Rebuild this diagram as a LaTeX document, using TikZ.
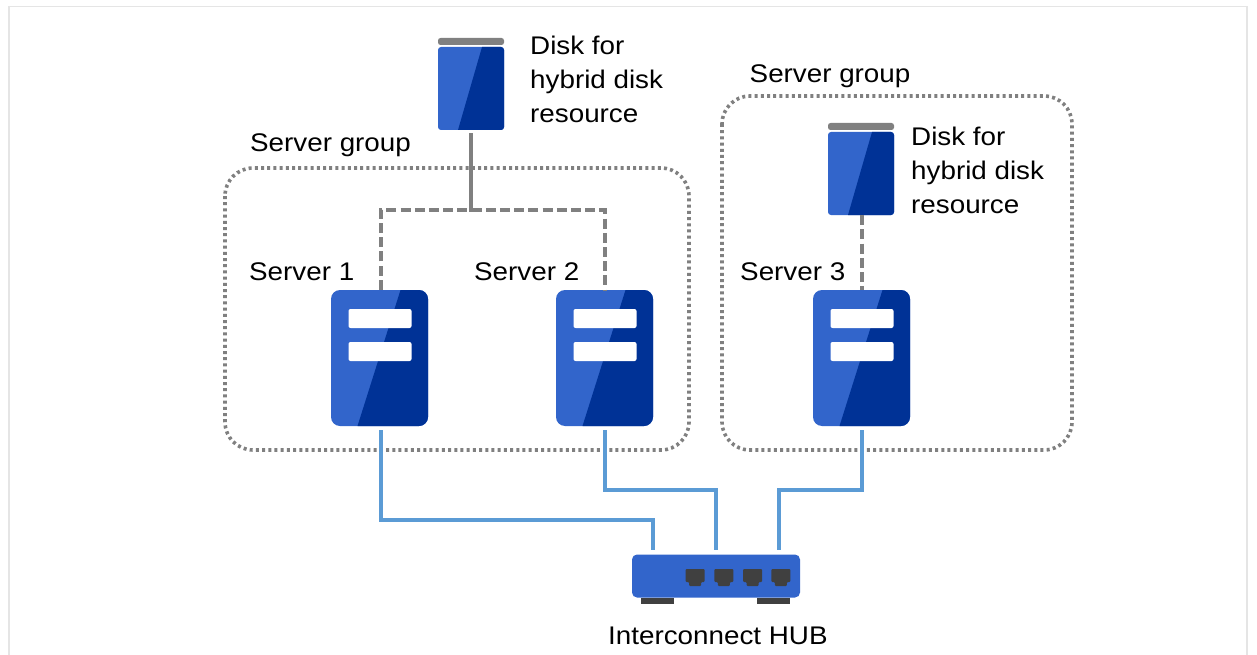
\documentclass[tikz,border=0pt]{standalone}
\usepackage{fontspec}
\setmainfont[FakeStretch=1.09]{Liberation Sans}
\definecolor{lightb}{HTML}{3265CB}
\definecolor{darkb}{HTML}{003296}
\definecolor{link}{HTML}{5B9BD5}
\definecolor{gline}{HTML}{808080}
\definecolor{port}{HTML}{404040}
\tikzset{
  x=1pt,y=-1pt,
  lab/.style={inner sep=0pt,anchor=west,align=left,font=\fontsize{25.5}{34}\selectfont},
  grp/.style={draw=gline,line width=3.6pt,dash pattern=on 3pt off 3.2pt,rounded corners=28pt},
  blue link/.style={draw=link,line width=3.4pt},
  san link/.style={draw=gline,line width=3.8pt,dash pattern=on 10pt off 4.2pt},
  san solid/.style={draw=gline,line width=3.8pt},
  frameln/.style={draw=black!10,line width=1.5pt},
}
\newcommand{\serverbox}[2]{% name, center x
  \node[fill=lightb,rounded corners=9pt,inner sep=0pt,minimum width=97pt,minimum height=136pt] (#1) at (#2,358) {};
  \begin{scope}
    \clip[rounded corners=9pt] (#2-48.5,290) rectangle (#2+48.5,426);
    \fill[darkb] (#2+21,290) -- (#2+50,290) -- (#2+50,426) -- (#2-22,426) -- cycle;
  \end{scope}
  \fill[white,rounded corners=2pt] (#2-31,309) rectangle (#2+32,328);
  \fill[white,rounded corners=2pt] (#2-31,342) rectangle (#2+32,361);
}
\newcommand{\diskbox}[3]{% name, center x, body top
  \node[fill=lightb,rounded corners=3pt,inner sep=0pt,minimum width=66pt,minimum height=83pt] (#1) at (#2,#3+41.5) {};
  \begin{scope}
    \clip[rounded corners=3pt] (#2-33,#3) rectangle (#2+33,#3+83);
    \fill[darkb] (#2+11,#3) -- (#2+34,#3) -- (#2+34,#3+83) -- (#2-13,#3+83) -- cycle;
  \end{scope}
  \fill[gline,rounded corners=2.5pt] (#2-33,#3-9) rectangle (#2+33,#3-2);
}
\begin{document}
\begin{tikzpicture}
\useasboundingbox (0,0) rectangle (1257,655);
\fill[white] (0,0) rectangle (1257,655);
\coordinate (fa) at (9,655); \coordinate (fb) at (9,6.5); \coordinate (fc) at (1247,6.5); \coordinate (fd) at (1247,655);
\draw[frameln] (fa) -- (fb) -- (fc) -- (fd);

% group outlines
\draw[grp] (225,168) rectangle (689,450);
\draw[grp] (722,96) rectangle (1072,450);

% devices
\serverbox{s1}{379.5}
\serverbox{s2}{604.5}
\serverbox{s3}{861.5}
\diskbox{d1}{471}{47}
\diskbox{d2}{861}{132}

% hub
\node[fill=lightb,rounded corners=5pt,inner sep=0pt,minimum width=168pt,minimum height=43pt] (hub) at (716,576) {};
\fill[port] (641,597.5) rectangle (674,604);
\fill[port] (757,597.5) rectangle (790,604);
\foreach \px in {685.7,714.3,743,771.3}{
  \fill[port,rounded corners=1pt] (\px,569) -- (\px+19,569) -- (\px+19,582) -- (\px+15.5,582) -- (\px+15.5,586) -- (\px+3.5,586) -- (\px+3.5,582) -- (\px,582) -- cycle;
}

% free ends and joints
\coordinate (j0) at (471,211.5);
\coordinate (j1) at (381,210);
\coordinate (j2) at (605,210);
\coordinate (hp1) at (653,550);
\coordinate (hp2) at (716,550);
\coordinate (hp3) at (779,550);
\coordinate (b1) at (381,430);
\coordinate (b2) at (605,430);
\coordinate (b3) at (862,430);

% disk connectors
\draw[san solid] (d1.south) ++(0,3) -- (j0);
\draw[san link] (j1 |- s1.north) -- (j1) -- (j2) -- (j2 |- s2.north);
\draw[san link] (d2.south -| b3) -- (b3 |- s3.north);

% interconnect
\draw[blue link] (b1) -- (381,520) -- (653,520) -- (hp1);
\draw[blue link] (b2) -- (605,490) -- (716,490) -- (hp2);
\draw[blue link] (b3) -- (862,490) -- (779,490) -- (hp3);

% labels
\node[lab] (t1) at (530,79) {Disk for\\hybrid disk\\resource};
\node[lab] (t2) at (911,170) {Disk for\\hybrid disk\\resource};
\node[lab] (t3) at (250,145) {Server group};
\node[lab] (t4) at (749.5,76) {Server group};
\node[lab] (t5) at (249,272) {Server 1};
\node[lab] (t6) at (474,272) {Server 2};
\node[lab] (t7) at (740,272) {Server 3};
\node[lab] (t8) at (608,636) {Interconnect HUB};
\end{tikzpicture}
\end{document}
